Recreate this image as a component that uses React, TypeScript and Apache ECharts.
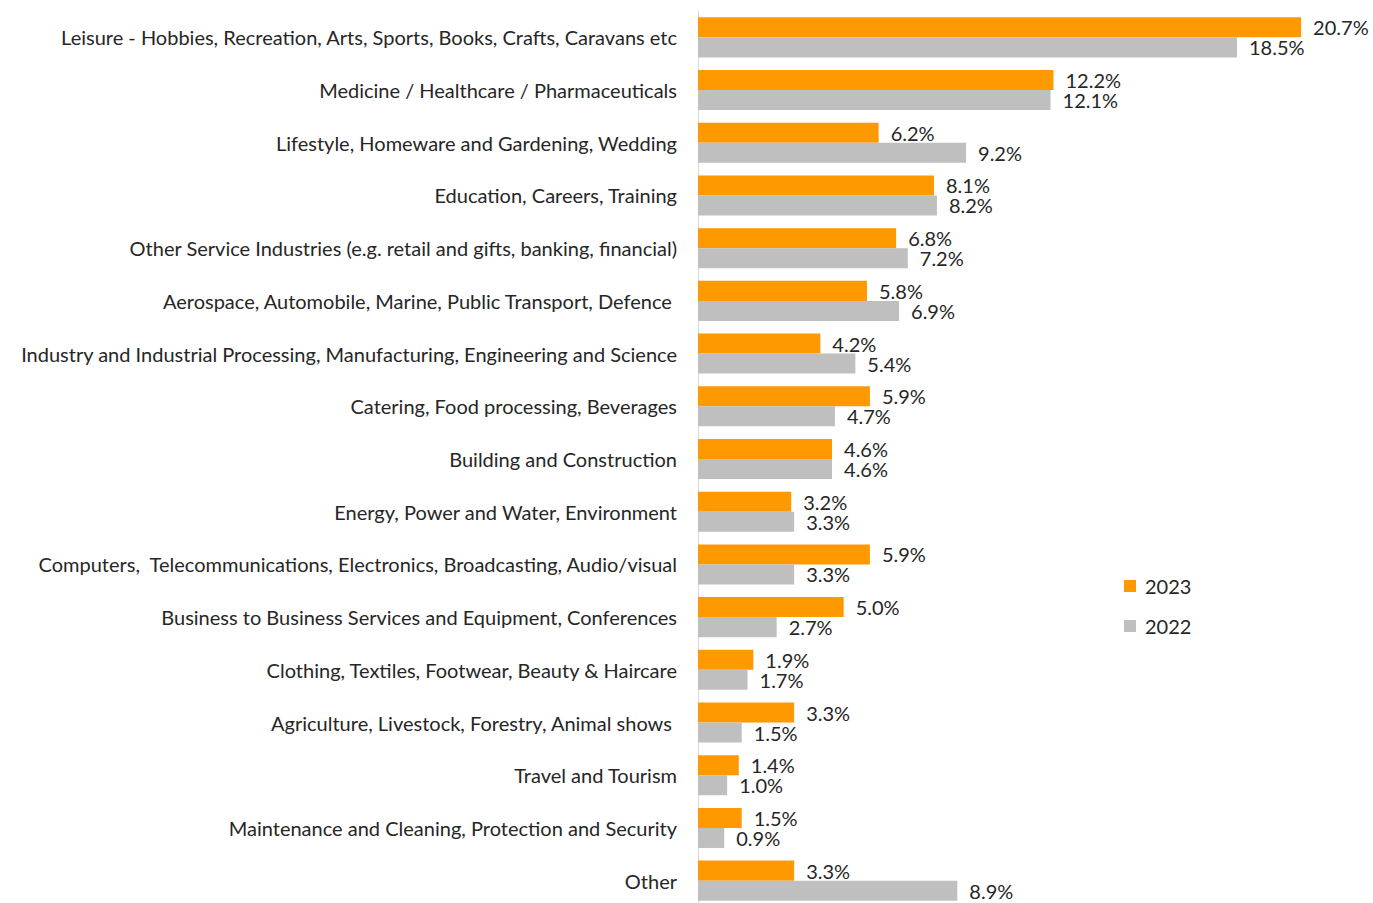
import React, { useEffect, useRef } from "react";
import * as echarts from "echarts";

const categories: string[] = [
  "Leisure - Hobbies, Recreation, Arts, Sports, Books, Crafts, Caravans etc",
  "Medicine / Healthcare / Pharmaceuticals",
  "Lifestyle, Homeware and Gardening, Wedding",
  "Education, Careers, Training",
  "Other Service Industries (e.g. retail and gifts, banking, financial)",
  "Aerospace, Automobile, Marine, Public Transport, Defence ",
  "Industry and Industrial Processing, Manufacturing, Engineering and Science",
  "Catering, Food processing, Beverages",
  "Building and Construction",
  "Energy, Power and Water, Environment",
  "Computers,  Telecommunications, Electronics, Broadcasting, Audio/visual",
  "Business to Business Services and Equipment, Conferences",
  "Clothing, Textiles, Footwear, Beauty & Haircare",
  "Agriculture, Livestock, Forestry, Animal shows ",
  "Travel and Tourism",
  "Maintenance and Cleaning, Protection and Security",
  "Other",
];

const values2023: number[] = [20.7, 12.2, 6.2, 8.1, 6.8, 5.8, 4.2, 5.9, 4.6, 3.2, 5.9, 5.0, 1.9, 3.3, 1.4, 1.5, 3.3];
const values2022: number[] = [18.5, 12.1, 9.2, 8.2, 7.2, 6.9, 5.4, 4.7, 4.6, 3.3, 3.3, 2.7, 1.7, 1.5, 1.0, 0.9, 8.9];

const seriesNames = ["2023", "2022"];

const FONT = "Lato, 'Noto Sans', sans-serif";

export default function App() {
  const ref = useRef<HTMLDivElement>(null);
  useEffect(() => {
    if (!ref.current) return;
    const chart = echarts.init(ref.current, undefined, { renderer: "svg" });
    const labelStyle = {
      show: true,
      position: "right" as const,
      distance: 12,
      formatter: (p: any) => p.value.toFixed(1) + "%",
      color: "#262626",
      fontSize: 20,
      lineHeight: 18,
      fontFamily: FONT,
    };
    chart.setOption({
      animation: false,
      backgroundColor: "#ffffff",
      legend: {
        orient: "vertical",
        left: 1119,
        top: 571,
        itemWidth: 12,
        itemHeight: 12,
        itemGap: 20,
        icon: "rect",
        textStyle: { fontSize: 20, color: "#262626", fontFamily: FONT, padding: [0, 0, 0, 4] },
        data: seriesNames,
      },
      grid: { left: 698, top: 11, width: 641, height: 896, containLabel: false },
      xAxis: {
        type: "value",
        min: 0,
        max: 22,
        show: false,
      },
      yAxis: {
        type: "category",
        inverse: true,
        data: categories,
        axisLine: { show: true, lineStyle: { color: "#D9D9D9", width: 1 } },
        axisTick: { show: false },
        axisLabel: { fontSize: 20, color: "#262626", fontFamily: FONT, margin: 21 },
      },
      series: [
        {
          name: seriesNames[0],
          type: "bar",
          data: values2023,
          itemStyle: { color: "#FF9900" },
          barGap: "0%",
          barCategoryGap: "24%",
          label: labelStyle,
        },
        {
          name: seriesNames[1],
          type: "bar",
          data: values2022,
          itemStyle: { color: "#BFBFBF" },
          barGap: "0%",
          barCategoryGap: "24%",
          label: labelStyle,
        },
      ],
    });
    return () => chart.dispose();
  }, []);
  return (
    <div
      ref={ref}
      style={{ position: "fixed", left: 0, top: 0, width: 1373, height: 910, background: "#fff" }}
    />
  );
}
